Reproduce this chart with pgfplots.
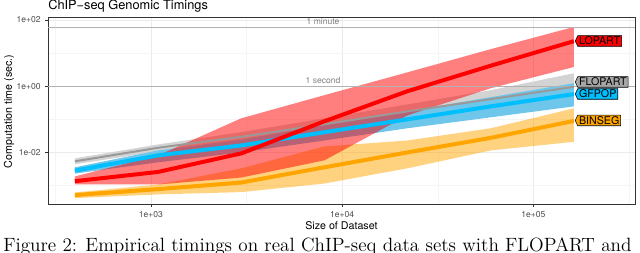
\documentclass[border=0pt]{standalone}
\usepackage{pgfplots}
\pgfplotsset{compat=1.18}
\usepackage{pgfplotstable}
\usepgfplotslibrary{fillbetween}
\usetikzlibrary{shapes.symbols}
\usepackage{fontspec}
\newfontfamily\hv{TeX Gyre Heros}

\definecolor{lopart}{HTML}{FF0000}
\definecolor{gfpop}{HTML}{00BFFF}
\definecolor{binseg}{HTML}{FFA500}
\definecolor{flopart}{HTML}{999999}
\definecolor{flopartband}{HTML}{D3D3D3}
\definecolor{gfpopband}{HTML}{6EC6EA}
\definecolor{flopartlab}{HTML}{A6A6A6}

\pgfplotstableread{
x mid lo hi
400 0.001349 0.001072 0.001875
1090 0.002570 0.001072 0.008128
2970 0.009333 0.001738 0.1072
8080 0.08710 0.005754 0.5370
22000 0.7079 0.1318 2.630
60000 4.169 0.8710 13.18
163000 22.91 3.802 61.66
}\lopart

\pgfplotstableread{
x mid lo hi
400 0.005370 0.004365 0.006607
1090 0.01380 0.01072 0.01738
2970 0.02951 0.02138 0.04074
8080 0.07079 0.05012 0.1072
22000 0.1738 0.1148 0.2818
60000 0.4074 0.2455 0.7586
163000 0.9550 0.6607 2.455
}\flopartT

\pgfplotstableread{
x mid lo hi
400 0.002818 0.002291 0.003548
1090 0.008128 0.005012 0.01148
2970 0.01622 0.01 0.02455
8080 0.04074 0.02291 0.06607
22000 0.1 0.05370 0.1738
60000 0.2455 0.1148 0.4677
163000 0.5754 0.2455 1.230
}\gfpopT

\pgfplotstableread{
x mid lo hi
400 0.0005129 0.0004169 0.0006166
1090 0.0007762 0.0005370 0.001072
2970 0.001230 0.0006310 0.003311
8080 0.003548 0.001148 0.01514
22000 0.01 0.003311 0.02291
60000 0.02754 0.01148 0.05370
163000 0.08913 0.02089 0.2138
}\binsegT

\begin{document}
\begin{tikzpicture}
\begin{axis}[
  name=ax, at={(0pt,0pt)}, anchor=south west,
  scale only axis, width=440.25pt, height=140.25pt,
  xmode=log, ymode=log,
  xmin=289.3, xmax=340400, ymin=0.000276, ymax=123.2,
  xtick={1000,10000,100000}, xticklabels={1e+03,1e+04,1e+05},
  ytick={0.01,1,100}, yticklabels={1e-02,1e+00,1e+02},
  minor xtick={316.2,3162,31623,316228},
  minor ytick={0.001,0.1,10},
  grid=both,
  major grid style={color=black!8, line width=0.55pt},
  minor grid style={color=black!4, line width=0.3pt},
  tick align=outside, xtick pos=bottom, ytick pos=left,
  major tick length=2pt, minor tick length=0pt,
  tick style={black!80, line width=0.5pt},
  axis line style={black!80, line width=0.7pt},
  ticklabel style={font=\hv\fontsize{6.4}{7}\selectfont, text=black!70},
  clip mode=individual,
]
% reference lines
\addplot[black!30, line width=0.7pt, forget plot] coordinates {(289.3,60) (340400,60)};
\addplot[black!30, line width=0.7pt, forget plot] coordinates {(289.3,1) (340400,1)};

% bands
\addplot[name path=fu, draw=none, forget plot] table[x=x,y=hi]{\flopartT};
\addplot[name path=fl, draw=none, forget plot] table[x=x,y=lo]{\flopartT};
\addplot[fill=flopartband, draw=none, forget plot] fill between[of=fu and fl];

\addplot[name path=gu, draw=none, forget plot] table[x=x,y=hi]{\gfpopT};
\addplot[name path=gl, draw=none, forget plot] table[x=x,y=lo]{\gfpopT};
\addplot[fill=gfpopband, draw=none, forget plot] fill between[of=gu and gl];

\addplot[name path=bu, draw=none, forget plot] table[x=x,y=hi]{\binsegT};
\addplot[name path=bl, draw=none, forget plot] table[x=x,y=lo]{\binsegT};
\addplot[fill=binseg, fill opacity=0.5, draw=none, forget plot] fill between[of=bu and bl];

\addplot[name path=lu, draw=none, forget plot] table[x=x,y=hi]{\lopart};
\addplot[name path=ll, draw=none, forget plot] table[x=x,y=lo]{\lopart};
\addplot[fill=lopart, fill opacity=0.5, draw=none, forget plot] fill between[of=lu and ll];

% lines
\addplot[flopart, line width=1.5pt, line join=round] table[x=x,y=mid]{\flopartT};
\addplot[gfpop, line width=3pt, line join=round] table[x=x,y=mid]{\gfpopT};
\addplot[binseg, line width=3pt, line join=round] table[x=x,y=mid]{\binsegT};
\addplot[lopart, line width=3pt, line join=round] table[x=x,y=mid]{\lopart};

% annotations
\node[anchor=base, yshift=2.2pt, inner sep=0pt, text=black!50, font=\hv\fontsize{6.4}{7}\selectfont] at (axis cs:7940,60) {1 minute};
\node[anchor=base, yshift=2.2pt, inner sep=0pt, text=black!50, font=\hv\fontsize{6.4}{7}\selectfont] at (axis cs:7940,1) {1 second};

\tikzset{lab/.style={signal, signal to=west, signal pointer angle=130, draw=black, line width=0.4pt, font=\hv\fontsize{8}{9}\selectfont, inner xsep=1pt, inner ysep=1.05pt, text height=5.8pt, text depth=0pt, anchor=west}}
\node[lab, fill=lopart] at (axis cs:165200,23.2) {LOPART};
\node[lab, fill=flopartlab] at (axis cs:165200,1.34) {FLOPART};
\node[lab, fill=gfpop] at (axis cs:165200,0.581) {GFPOP};
\node[lab, fill=binseg] at (axis cs:165200,0.0921) {BINSEG};
\end{axis}

\node[anchor=base west, inner sep=0pt, font=\hv\fontsize{9.6}{11}\selectfont] at (0pt,146pt) {ChIP\char"2212 seq Genomic Timings};
\node[rotate=90, anchor=center, inner sep=0pt, font=\hv\fontsize{8}{9}\selectfont] at (-29.25pt,69.4pt) {Computation time (sec.)};
\node[anchor=center, inner sep=0pt, font=\hv\fontsize{8}{9}\selectfont] at (220.1pt,-16.5pt) {Size of Dataset};
\node[anchor=base west, inner sep=0pt, font=\fontsize{14.4}{17}\selectfont] at (-33.75pt,-36pt) {Figure 2: Empirical timings on real ChIP-seq data sets with FLOPART and};

\pgfresetboundingbox
\path[use as bounding box] (-36pt,-36.75pt) rectangle (444pt,153pt);
\end{tikzpicture}
\end{document}
